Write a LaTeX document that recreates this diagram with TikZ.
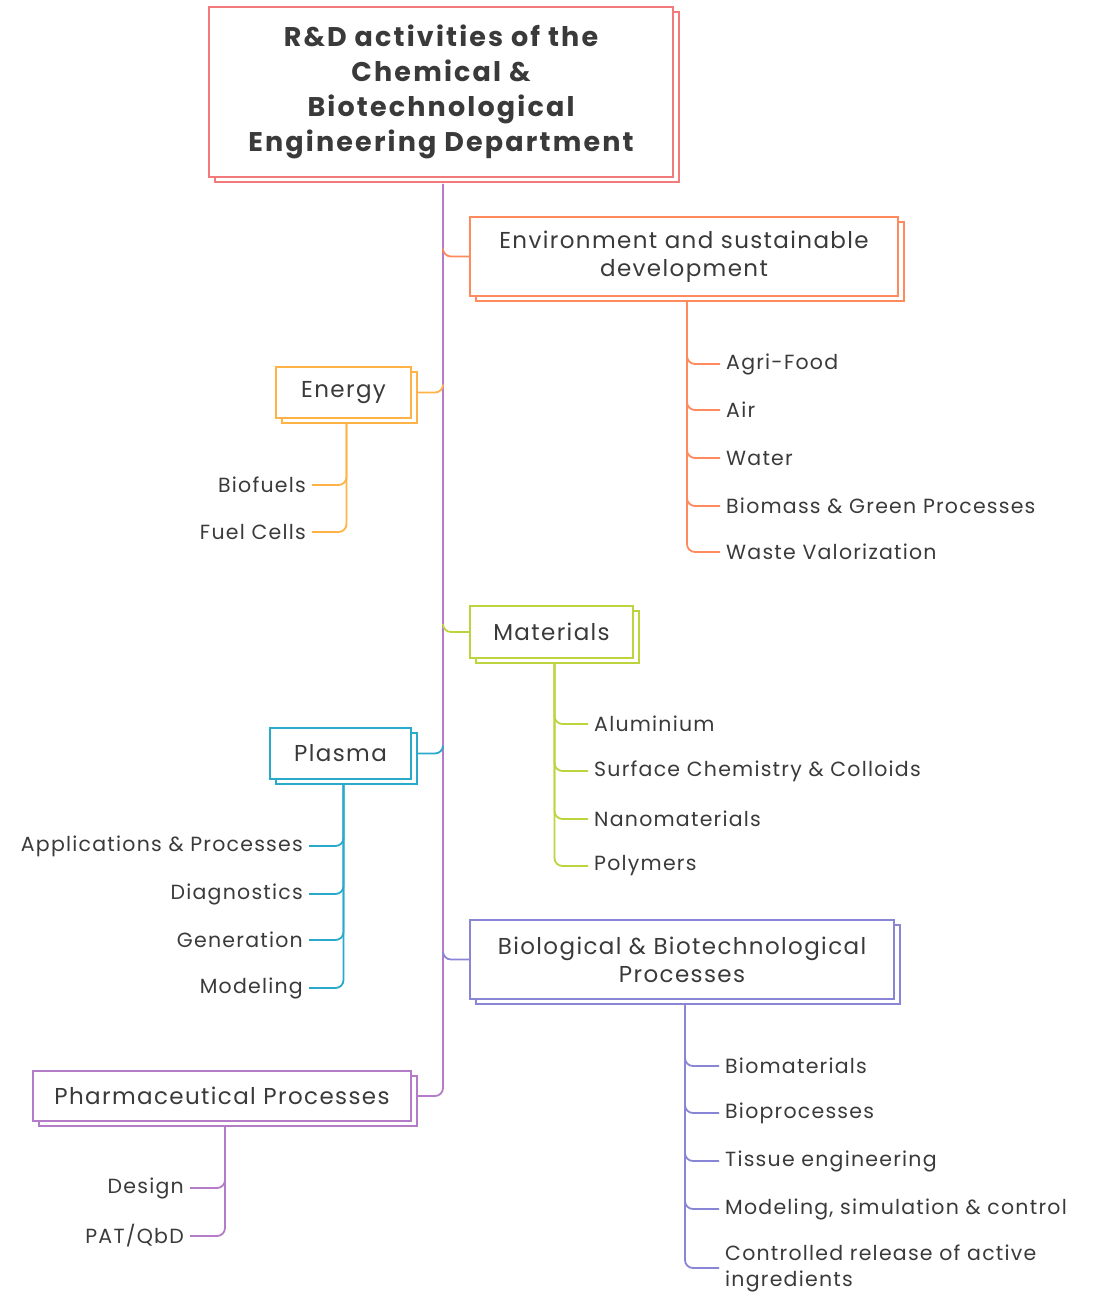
\documentclass[tikz,border=0pt]{standalone}
\usepackage{fontspec}
\setmainfont{Poppins}
\newfontfamily\leaffont{Poppins}[LetterSpace=6]
\newfontfamily\brfontfam{Poppins}[LetterSpace=6]
\newfontfamily\rootfont{Poppins}[LetterSpace=8]
\usetikzlibrary{calc,shadows}
\definecolor{rootc}{HTML}{F27A7A}
\definecolor{envc}{HTML}{FF8A5E}
\definecolor{enerc}{HTML}{FFB347}
\definecolor{matc}{HTML}{BDD43E}
\definecolor{plac}{HTML}{2AAACB}
\definecolor{bioc}{HTML}{8A86D6}
\definecolor{phac}{HTML}{B47CC6}
\definecolor{txt}{HTML}{3A3A3A}
\tikzset{
  box/.style={draw=#1, fill=white, line width=1.6pt, align=center, text=txt,
    inner sep=0pt, copy shadow={shadow xshift=6pt, shadow yshift=-5pt, draw=#1, fill=white}},
  link/.style={draw=#1, line width=1.8pt, rounded corners=8pt},
  leaf/.style={text=txt, font=\leaffont\fontsize{20.5}{26}\selectfont, inner xsep=6pt, inner ysep=2pt},
  brfont/.style={font=\brfontfam\fontsize{23}{28}\selectfont}
}
\begin{document}
\begin{tikzpicture}[x=1pt,y=-1pt]
\useasboundingbox (0,0) rectangle (1102,1293);
\coordinate (T) at (443,0);
% boxes
\node[box=rootc, minimum width=464pt, minimum height=170pt,
  font=\rootfont\fontsize{27}{35}\selectfont\bfseries] (root) at (441,92)
  {R\&D activities of the\\Chemical \&\\Biotechnological\\Engineering Department};
\node[box=envc, brfont, minimum width=428pt, minimum height=79pt] (env) at (684,256.5)
  {Environment and sustainable\\development};
\node[box=enerc, brfont, minimum width=135pt, minimum height=51pt] (ener) at (343.5,392.5) {Energy};
\node[box=matc, brfont, minimum width=163pt, minimum height=52pt] (mat) at (551.5,632) {Materials};
\node[box=plac, brfont, minimum width=141pt, minimum height=51pt] (pla) at (340.5,753.5) {Plasma};
\node[box=bioc, brfont, minimum width=424pt, minimum height=79pt] (bio) at (682,959.5)
  {Biological \& Biotechnological\\Processes};
\node[box=phac, brfont, minimum width=378pt, minimum height=50pt] (pha) at (222,1096) {Pharmaceutical Processes};
% leaves
\node[leaf, anchor=west] (e1) at (720,364) {Agri-Food};
\node[leaf, anchor=west] (e2) at (720,410) {Air};
\node[leaf, anchor=west] (e3) at (720,458) {Water};
\node[leaf, anchor=west] (e4) at (720,506) {Biomass \& Green Processes};
\node[leaf, anchor=west] (e5) at (720,552) {Waste Valorization};
\node[leaf, anchor=east] (n1) at (312,485) {Biofuels};
\node[leaf, anchor=east] (n2) at (312,532) {Fuel Cells};
\node[leaf, anchor=west] (m1) at (588,724) {Aluminium};
\node[leaf, anchor=west] (m2) at (588,771) {Surface Chemistry \& Colloids};
\node[leaf, anchor=west] (m3) at (588,819) {Nanomaterials};
\node[leaf, anchor=west] (m4) at (588,866) {Polymers};
\node[leaf, anchor=east] (p1) at (309,846) {Applications \& Processes};
\node[leaf, anchor=east] (p2) at (309,894) {Diagnostics};
\node[leaf, anchor=east] (p3) at (309,940) {Generation};
\node[leaf, anchor=east] (p4) at (309,988) {Modeling};
\node[leaf, anchor=west] (b1) at (719,1066) {Biomaterials};
\node[leaf, anchor=west] (b2) at (719,1113) {Bioprocesses};
\node[leaf, anchor=west] (b3) at (719,1161) {Tissue engineering};
\node[leaf, anchor=west] (b4) at (719,1209) {Modeling, simulation \& control};
\node[leaf, anchor=west, align=left] (b5) at (719,1268) {Controlled release of active\\ingredients};
\node[leaf, anchor=east] (h1) at (190,1188) {Design};
\node[leaf, anchor=east] (h2) at (190,1236) {PAT/QbD};
% trunk and branch links
\draw[link=phac] ($(T|-root.south)+(0,6)$) |- ($(pha.east)+(6,0)$);
\draw[link=envc] ($(T|-env.west)+(0,-8)$) |- (env.west);
\draw[link=enerc] ($(ener.east)+(6,0)$) -| ($(T|-ener.east)+(0,-8)$);
\draw[link=matc] ($(T|-mat.west)+(0,-8)$) |- (mat.west);
\draw[link=plac] ($(pla.east)+(6,0)$) -| ($(T|-pla.east)+(0,-8)$);
\draw[link=bioc] ($(T|-bio.west)+(0,-8)$) |- (bio.west);
% leaf links
\foreach \l in {e1,e2,e3,e4,e5} \draw[link=envc] ($(env.south)+(3,5)$) |- (\l.west);
\foreach \l in {n1,n2} \draw[link=enerc] ($(ener.south)+(3,5)$) |- (\l.east);
\foreach \l in {m1,m2,m3,m4} \draw[link=matc] ($(mat.south)+(3,5)$) |- (\l.west);
\foreach \l in {p1,p2,p3,p4} \draw[link=plac] ($(pla.south)+(3,5)$) |- (\l.east);
\foreach \l in {b1,b2,b3,b4,b5} \draw[link=bioc] ($(bio.south)+(3,5)$) |- (\l.west);
\foreach \l in {h1,h2} \draw[link=phac] ($(pha.south)+(3,5)$) |- (\l.east);
\end{tikzpicture}
\end{document}
